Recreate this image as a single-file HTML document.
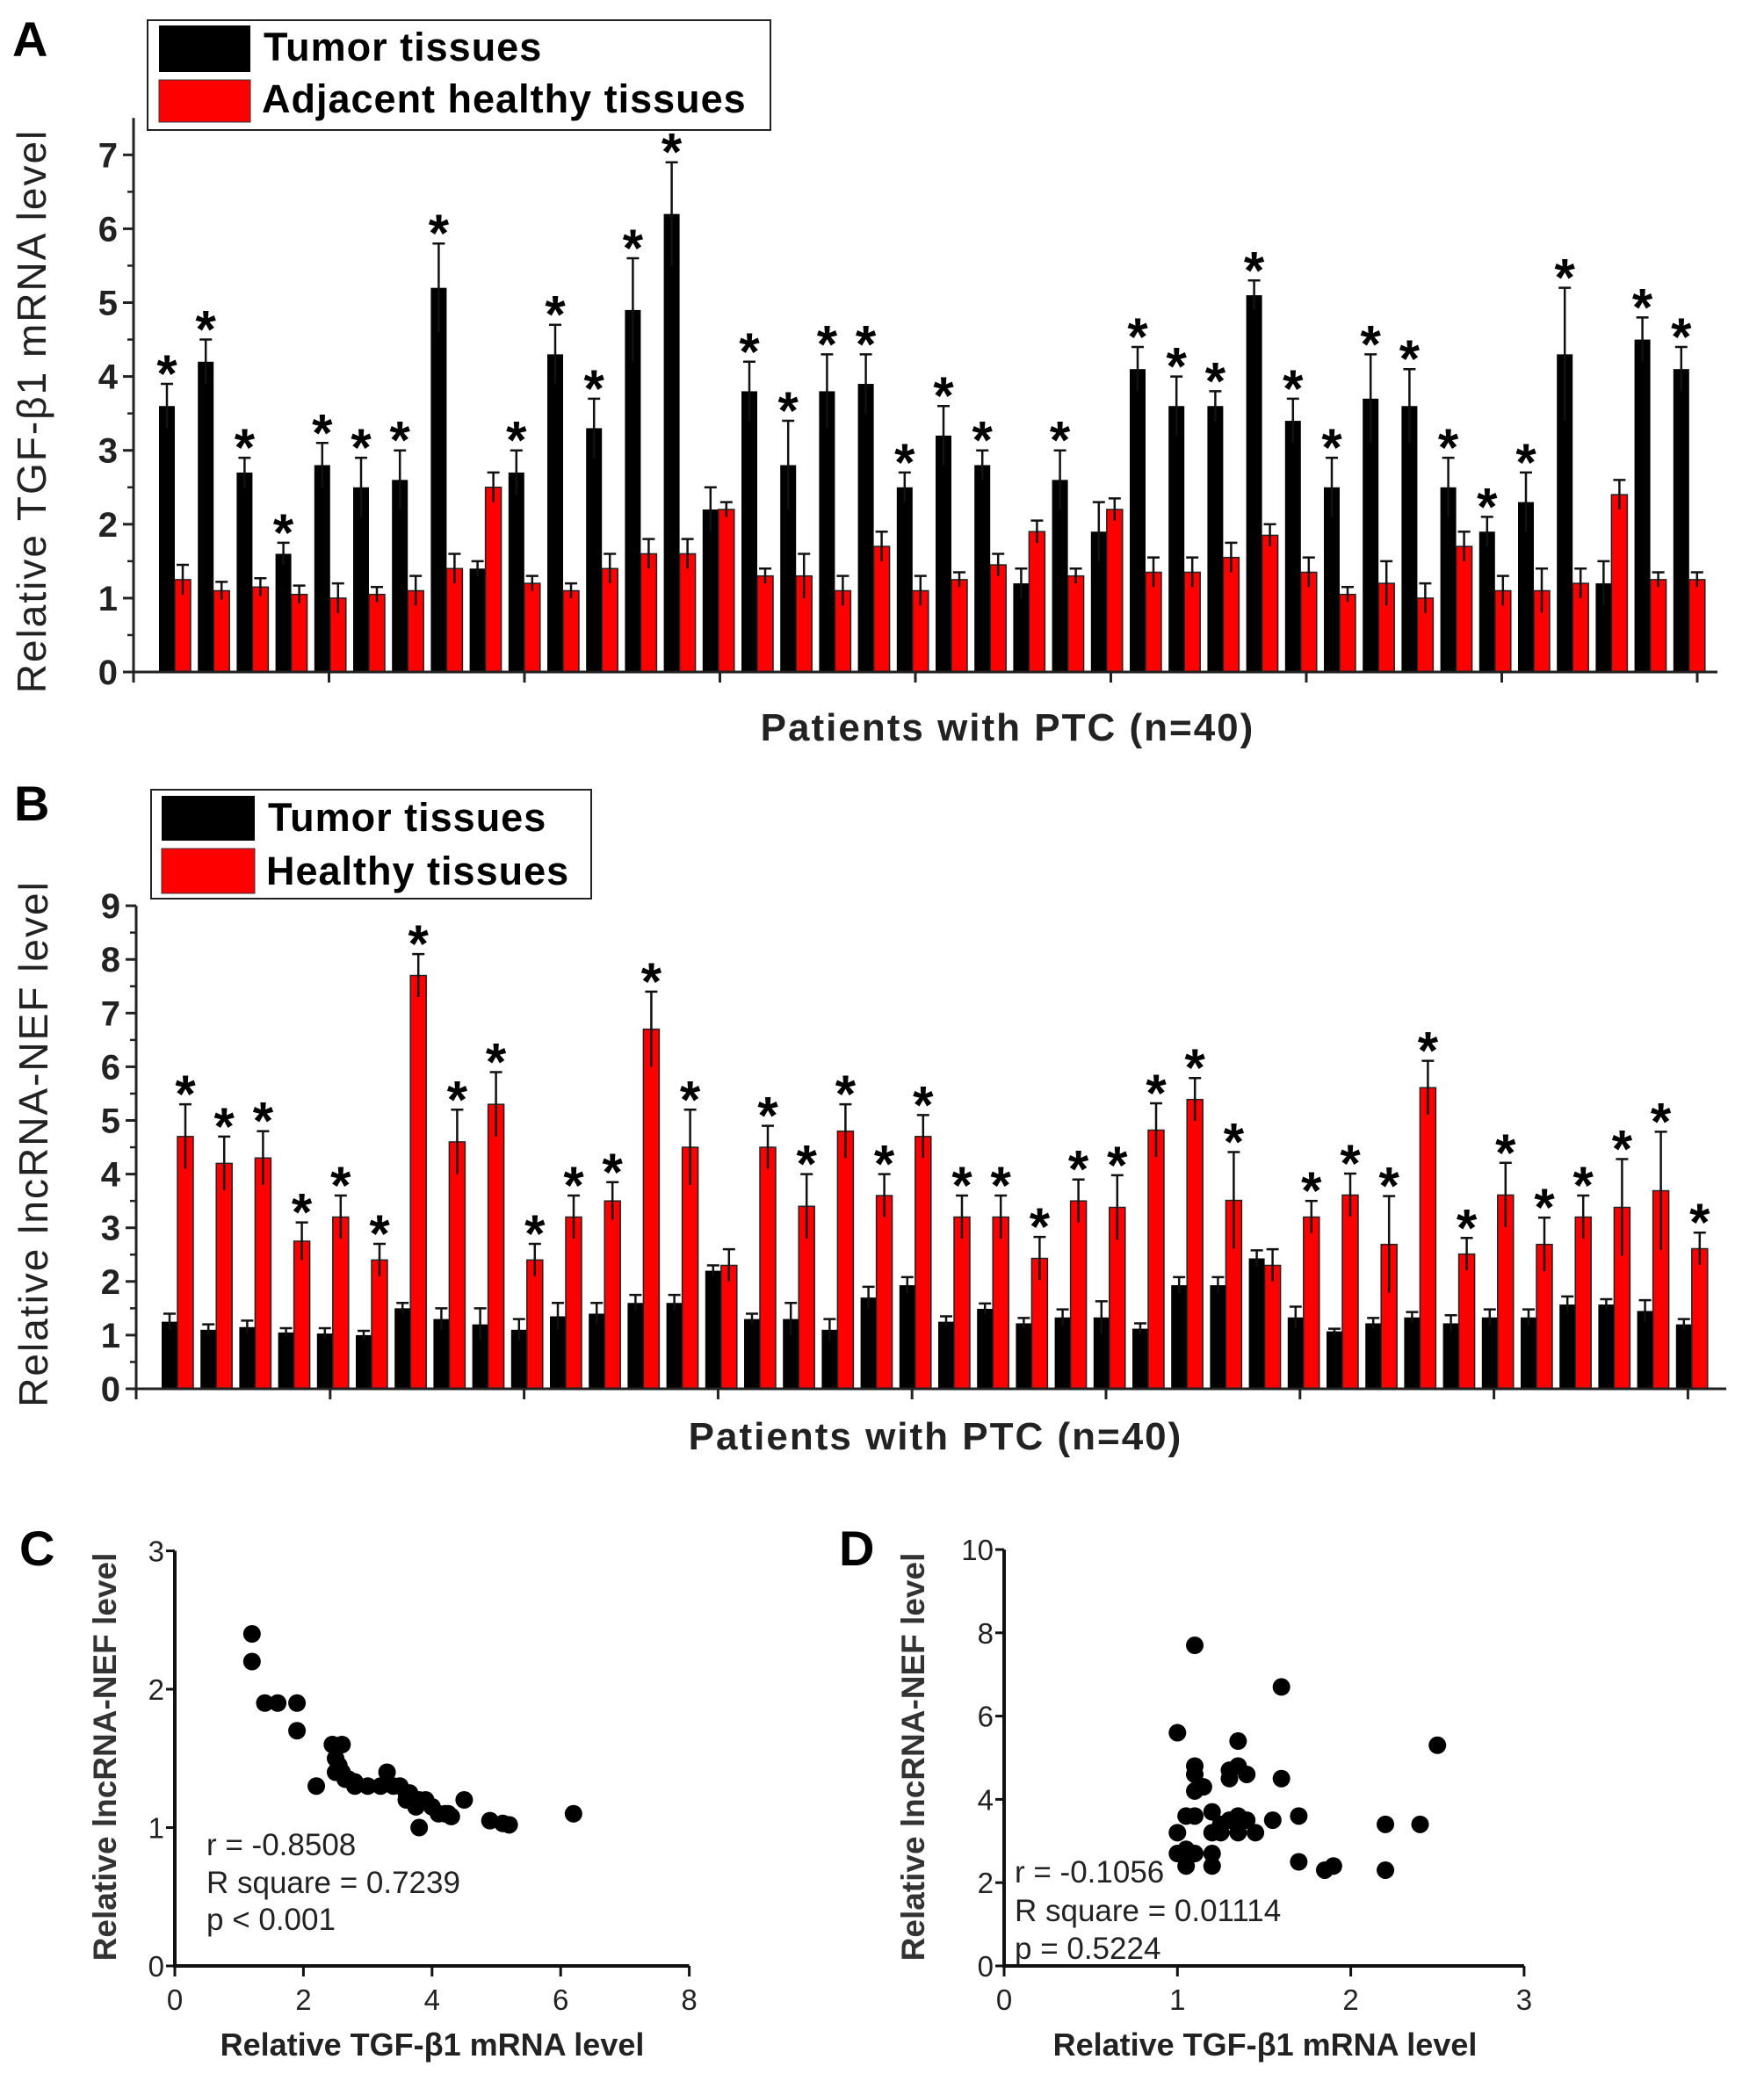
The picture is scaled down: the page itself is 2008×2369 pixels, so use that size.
<!DOCTYPE html>
<html><head><meta charset="utf-8"><style>
html,body{margin:0;padding:0;background:#fff;}
svg{display:block;font-family:"Liberation Sans",sans-serif;}
</style></head><body>
<svg id="fig" width="2008" height="2369" viewBox="0 0 2008 2369" xmlns="http://www.w3.org/2000/svg">
<rect x="0" y="0" width="2008" height="2369" fill="#fff"/>
<g id="panelA">
 <text x="14" y="64" font-size="56" font-weight="bold">A</text>
 <g>
  <rect x="168" y="23" width="709" height="125" fill="#fff" stroke="#222" stroke-width="2"/>
  <rect x="181" y="29" width="104" height="53" fill="#000"/>
  <rect x="181" y="91" width="104" height="48" fill="#f00" stroke="#333" stroke-width="1"/>
  <text x="300" y="69" font-size="45" font-weight="bold" letter-spacing="1">Tumor tissues</text>
  <text x="298" y="128" font-size="45" font-weight="bold" letter-spacing="1">Adjacent healthy tissues</text>
 </g>
 <text transform="translate(52,468) rotate(-90)" text-anchor="middle" font-size="46" letter-spacing="2" fill="#222">Relative TGF-β1 mRNA level</text>
 <text x="1147" y="843" text-anchor="middle" font-size="44" font-weight="bold" letter-spacing="2" fill="#222">Patients with PTC (n=40)</text>
</g>
<g id="panelB">
 <text x="16" y="934" font-size="56" font-weight="bold">B</text>
 <g>
  <rect x="172" y="899" width="501" height="124" fill="#fff" stroke="#222" stroke-width="2"/>
  <rect x="184" y="906" width="106" height="51" fill="#000"/>
  <rect x="184" y="966" width="106" height="51" fill="#f00" stroke="#333" stroke-width="1"/>
  <text x="305" y="946" font-size="45" font-weight="bold" letter-spacing="1">Tumor tissues</text>
  <text x="303" y="1007" font-size="45" font-weight="bold" letter-spacing="1">Healthy tissues</text>
 </g>
 <text transform="translate(54,1302) rotate(-90)" text-anchor="middle" font-size="46" letter-spacing="2" fill="#222">Relative lncRNA-NEF level</text>
 <text x="1065" y="1650" text-anchor="middle" font-size="44" font-weight="bold" letter-spacing="2" fill="#222">Patients with PTC (n=40)</text>
</g>
<g id="panelC">
 <text x="22" y="1782" font-size="56" font-weight="bold">C</text>
 <text transform="translate(132,2000) rotate(-90)" text-anchor="middle" font-size="37" font-weight="bold" fill="#333">Relative lncRNA-NEF level</text>
 <text x="492" y="2340" text-anchor="middle" font-size="36" font-weight="bold" fill="#222">Relative TGF-β1 mRNA level</text>
 <text x="235" y="2112" font-size="35" fill="#222">r = -0.8508</text>
 <text x="235" y="2155" font-size="35" fill="#222">R square = 0.7239</text>
 <text x="235" y="2197" font-size="35" fill="#222">p &lt; 0.001</text>
</g>
<g id="panelD">
 <text x="955" y="1782" font-size="56" font-weight="bold">D</text>
 <text transform="translate(1052,2000) rotate(-90)" text-anchor="middle" font-size="37" font-weight="bold" fill="#333">Relative lncRNA-NEF level</text>
 <text x="1440" y="2340" text-anchor="middle" font-size="36" font-weight="bold" fill="#222">Relative TGF-β1 mRNA level</text>
 <text x="1155" y="2143" font-size="35" fill="#222">r = -0.1056</text>
 <text x="1155" y="2187" font-size="35" fill="#222">R square = 0.01114</text>
 <text x="1155" y="2230" font-size="35" fill="#222">p = 0.5224</text>
</g>
</svg>
<script>
// Panel A data
var aTumor = [3.6,4.2,2.7,1.6,2.8,2.5,2.6,5.2,1.4,2.7,4.3,3.3,4.9,6.2,2.2,3.8,2.8,3.8,3.9,2.5,3.2,2.8,1.2,2.6,1.9,4.1,3.6,3.6,5.1,3.4,2.5,3.7,3.6,2.5,1.9,2.3,4.3,1.2,4.5,4.1];
var aTumorErr = [0.3,0.3,0.2,0.15,0.3,0.4,0.4,0.6,0.1,0.3,0.4,0.4,0.7,0.7,0.3,0.4,0.6,0.5,0.4,0.2,0.4,0.2,0.2,0.4,0.4,0.3,0.4,0.2,0.2,0.3,0.4,0.6,0.5,0.4,0.2,0.4,0.9,0.3,0.3,0.3];
var aAdj = [1.25,1.1,1.15,1.05,1.0,1.05,1.1,1.4,2.5,1.2,1.1,1.4,1.6,1.6,2.2,1.3,1.3,1.1,1.7,1.1,1.25,1.45,1.9,1.3,2.2,1.35,1.35,1.55,1.85,1.35,1.05,1.2,1.0,1.7,1.1,1.1,1.2,2.4,1.25,1.25];
var aAdjErr = [0.2,0.12,0.12,0.12,0.2,0.1,0.2,0.2,0.2,0.1,0.1,0.2,0.2,0.2,0.1,0.1,0.3,0.2,0.2,0.2,0.1,0.15,0.15,0.1,0.15,0.2,0.2,0.2,0.15,0.2,0.1,0.3,0.2,0.2,0.2,0.3,0.2,0.2,0.1,0.1];
var aSig = [1,1,1,1,1,1,1,1,0,1,1,1,1,1,0,1,1,1,1,1,1,1,0,1,0,1,1,1,1,1,1,1,1,1,1,1,1,0,1,1];
var aTicks = [0,1,2,3,4,5,6,7];
// Panel B data
var bTumor = [1.25,1.1,1.15,1.05,1.03,1.0,1.5,1.3,1.2,1.1,1.35,1.4,1.6,1.6,2.2,1.3,1.3,1.1,1.7,1.93,1.25,1.49,1.22,1.33,1.33,1.12,1.93,1.93,2.43,1.33,1.07,1.22,1.33,1.22,1.33,1.33,1.57,1.57,1.45,1.2];
var bTumorErr = [0.15,0.1,0.12,0.08,0.1,0.08,0.1,0.2,0.3,0.2,0.25,0.2,0.15,0.15,0.1,0.1,0.3,0.2,0.2,0.15,0.1,0.1,0.1,0.15,0.3,0.1,0.15,0.15,0.15,0.2,0.05,0.1,0.1,0.15,0.15,0.15,0.15,0.1,0.2,0.1];
var bHealthy = [4.7,4.2,4.3,2.75,3.2,2.4,7.7,4.6,5.3,2.4,3.2,3.5,6.7,4.5,2.3,4.5,3.4,4.8,3.6,4.7,3.2,3.2,2.43,3.5,3.38,4.82,5.39,3.51,2.3,3.2,3.61,2.69,5.61,2.51,3.61,2.69,3.2,3.38,3.69,2.61];
var bHealthyErr = [0.6,0.5,0.5,0.35,0.4,0.3,0.4,0.6,0.6,0.3,0.4,0.35,0.7,0.7,0.3,0.4,0.6,0.5,0.4,0.4,0.4,0.4,0.4,0.4,0.6,0.5,0.4,0.9,0.3,0.3,0.4,0.9,0.5,0.3,0.6,0.5,0.4,0.9,1.1,0.3];
var bSig = [1,1,1,1,1,1,1,1,1,1,1,1,1,1,0,1,1,1,1,1,1,1,1,1,1,1,1,1,0,1,1,1,1,1,1,1,1,1,1,1];
var bTicks = [0,1,2,3,4,5,6,7,8,9];
// Panel C data
var cX = [1.2,1.2,1.4,1.6,1.9,1.9,2.2,2.45,2.5,2.6,2.5,2.6,2.7,2.8,2.8,3.2,3.3,3.5,3.6,3.6,3.7,3.8,3.8,3.9,4.1,4.2,4.3,4.5,4.9,5.1,5.2,6.2,2.55,3.0,3.4,3.75,4.0,2.65,3.65,4.25];
var cY = [2.4,2.2,1.9,1.9,1.9,1.7,1.3,1.6,1.5,1.6,1.4,1.4,1.35,1.3,1.33,1.3,1.4,1.3,1.25,1.2,1.2,1.2,1.0,1.2,1.1,1.1,1.08,1.2,1.05,1.03,1.02,1.1,1.45,1.3,1.3,1.15,1.15,1.35,1.25,1.1];
var cXTicks = [0,2,4,6,8];
var cYTicks = [0,1,2,3];
// Panel D data
var dX = [1.1,1.6,1.0,1.35,2.5,1.1,1.1,1.3,1.35,1.4,1.3,1.6,1.1,1.15,1.05,1.1,1.2,1.3,1.35,1.4,1.55,1.7,1.2,1.25,1.35,1.45,1.0,2.2,2.4,1.05,1.1,1.2,1.05,1.2,1.7,1.85,1.9,2.2,1.0,1.25];
var dY = [7.7,6.7,5.6,5.4,5.3,4.8,4.6,4.7,4.8,4.6,4.5,4.5,4.2,4.3,3.6,3.6,3.7,3.5,3.6,3.5,3.5,3.6,3.2,3.2,3.2,3.2,3.2,3.4,3.4,2.8,2.7,2.7,2.4,2.4,2.5,2.3,2.4,2.3,2.7,3.4];
var dXTicks = [0,1,2,3];
var dYTicks = [0,2,4,6,8,10];

var NS = "http://www.w3.org/2000/svg";
function mk(parent, tag, attrs) {
  var e = document.createElementNS(NS, tag);
  for (var k in attrs) e.setAttribute(k, attrs[k]);
  parent.appendChild(e);
  return e;
}

function barChart(gid, tumor, tErr, other, oErr, sig, ticks, cfg) {
  var g = document.getElementById(gid);
  function y(v) { return cfg.y0 - v * cfg.unit; }
  function gx(i) { return cfg.x0 + i * cfg.pitch; }
  var n = tumor.length;
  for (var i = 0; i < n; i++) {
    var xb = gx(i), xr = xb + cfg.bw;
    var b = mk(g, "rect", {x: xb, y: y(tumor[i]), width: cfg.bw, height: tumor[i] * cfg.unit, fill: "#000"});
    
    
    var r = mk(g, "rect", {x: xr, y: y(other[i]), width: cfg.bw, height: other[i] * cfg.unit, fill: "#f00", stroke: "#222", "stroke-width": 1.5});
    
    
    var pairs = [[xb + cfg.bw / 2, tumor[i], tErr[i]], [xr + cfg.bw / 2, other[i], oErr[i]]];
    for (var j = 0; j < 2; j++) {
      var cx = pairs[j][0], v = pairs[j][1], e = pairs[j][2];
      var eb = mk(g, "path", {d: "M" + cx + "," + y(v - e) + "V" + y(v + e) + "M" + (cx - 7) + "," + y(v + e) + "H" + (cx + 7), stroke: "#111", "stroke-width": 2.5, fill: "none"});
      
      
    }
    if (sig[i]) {
      var sIdx = cfg.starOn === "tumor" ? 0 : 1;
      var sv = pairs[sIdx][1] + pairs[sIdx][2];
      var st = mk(g, "text", {x: pairs[sIdx][0], y: y(sv) + 9, "text-anchor": "middle", "font-size": 60, "font-weight": "bold"});
      st.textContent = "*";
      
      
    }
  }
  var ax = mk(g, "path", {d: "M" + cfg.axX + "," + y(ticks[ticks.length - 1] + cfg.extra) + "V" + cfg.y0 + "H" + cfg.xEnd, stroke: "#222", "stroke-width": 3, fill: "none"});
  
  
  for (var t = 0; t < ticks.length; t++) {
    var tv = ticks[t];
    var tk = mk(g, "path", {d: "M" + (cfg.axX - 12) + "," + y(tv) + "H" + cfg.axX, stroke: "#222", "stroke-width": 3});
    
    
    if (t < ticks.length - 1) {
      var mt = mk(g, "path", {d: "M" + (cfg.axX - 7) + "," + y(tv + 0.5) + "H" + cfg.axX, stroke: "#222", "stroke-width": 2.5});
      
      
    }
    var tl = mk(g, "text", {x: cfg.axX - 18, y: y(tv) + 14, "text-anchor": "end", "font-size": 40, "font-weight": "bold", fill: "#222"});
    tl.textContent = tv;
    
    
  }
  for (var k = 0; k < 9; k++) {
    var xx = cfg.axX + k * cfg.xt;
    var xt = mk(g, "path", {d: "M" + xx + "," + cfg.y0 + "V" + (cfg.y0 + 12), stroke: "#222", "stroke-width": 3});
    
    
  }
}

barChart("panelA", aTumor, aTumorErr, aAdj, aAdjErr, aSig, aTicks,
  {x0: 181, pitch: 44.2, bw: 18, y0: 765, unit: 84.1, axX: 152, xEnd: 1955, xt: 222.5, starOn: "tumor", extra: 0.5});
barChart("panelB", bTumor, bTumorErr, bHealthy, bHealthyErr, bSig, bTicks,
  {x0: 184, pitch: 44.2, bw: 18, y0: 1581, unit: 61.1, axX: 155, xEnd: 1965, xt: 220.8, starOn: "other", extra: 0});

function scatter(gid, xs, ys, xTicks, yTicks, cfg) {
  var g = document.getElementById(gid);
  function px(v) { return cfg.x0 + v * cfg.ux; }
  function py(v) { return cfg.y0 - v * cfg.uy; }
  var xMax = xTicks[xTicks.length - 1], yMax = yTicks[yTicks.length - 1];
  var ax = mk(g, "path", {d: "M" + px(0) + "," + py(yMax) + "V" + py(0) + "H" + px(xMax), stroke: "#111", "stroke-width": 4, fill: "none"});
  
  
  for (var i = 0; i < xTicks.length; i++) {
    var t = mk(g, "path", {d: "M" + px(xTicks[i]) + "," + py(0) + "V" + (py(0) + 12), stroke: "#111", "stroke-width": 3});
    
    
    var l = mk(g, "text", {x: px(xTicks[i]), y: py(0) + 50, "text-anchor": "middle", "font-size": 33, fill: "#222"});
    l.textContent = xTicks[i];
    
    
  }
  for (var j = 0; j < yTicks.length; j++) {
    var t2 = mk(g, "path", {d: "M" + (px(0) - 10) + "," + py(yTicks[j]) + "H" + px(0), stroke: "#111", "stroke-width": 3});
    
    
    var l2 = mk(g, "text", {x: px(0) - 12, y: py(yTicks[j]) + 12, "text-anchor": "end", "font-size": 33, fill: "#222"});
    l2.textContent = yTicks[j];
    
    
  }
  for (var k = 0; k < xs.length; k++) {
    var c = mk(g, "circle", {cx: px(xs[k]), cy: py(ys[k]), r: 10, fill: "#000"});
    
    
  }
}
scatter("panelC", cX, cY, cXTicks, cYTicks, {x0: 199, ux: 73.2, y0: 2238, uy: 157.5});
scatter("panelD", dX, dY, dXTicks, dYTicks, {x0: 1143, ux: 197.3, y0: 2238, uy: 47.4});
</script>
</body></html>
